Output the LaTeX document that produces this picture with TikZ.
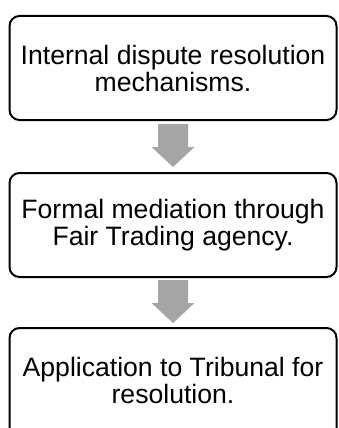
\documentclass[tikz,border=0pt]{standalone}
\usepackage{fontspec}
\setmainfont{Liberation Sans}
\usetikzlibrary{calc}
\definecolor{arrowgray}{HTML}{A5A5A5}
\tikzset{
  stepbox/.style={draw=black, line width=2pt, rounded corners=10pt,
    minimum width=327pt, minimum height=104pt, align=center,
    inner sep=0pt, font=\fontsize{26.6}{27}\selectfont},
  steptext/.style={align=center, inner sep=0pt,
    font=\fontsize{26.6}{27}\selectfont},
  blockarrow/.style={fill=arrowgray, draw=none}
}
\begin{document}
\begin{tikzpicture}[x=1pt, y=-1pt]
  \useasboundingbox (0,0) rectangle (338,428);
  \clip (0,0) rectangle (338,428);
  \fill[white] (0,0) rectangle (338,428);

  % the three stages
  \node[stepbox] (b1) at (173,68)  {Internal dispute resolution\\mechanisms.};
  \node[stepbox] (b2) at (173,225) {Formal mediation through\\Fair Trading agency.};
  % the last stage runs past the lower edge of the page
  \node[stepbox, minimum height=120pt] (b3) at (173,388) {};
  \node[steptext] (t3) at ($(b3.center)+(0,-8)$) {Application to Tribunal for\\resolution.};

  % block arrows between consecutive stages
  \foreach \a/\b/\m in {b1/b2/m1, b2/b3/m2} {
    \coordinate (\m) at ($(\a.south)!0.5!(\b.north)+(0,-1)$);
    \fill[blockarrow]
      ($(\m)+(-15,-21.5)$) -- ($(\m)+(15,-21.5)$) -- ($(\m)+(15,1.5)$)
      -- ($(\m)+(21.5,1.5)$) -- ($(\m)+(0,21.5)$) -- ($(\m)+(-21.5,1.5)$)
      -- ($(\m)+(-15,1.5)$) -- cycle;
  }
\end{tikzpicture}
\end{document}
